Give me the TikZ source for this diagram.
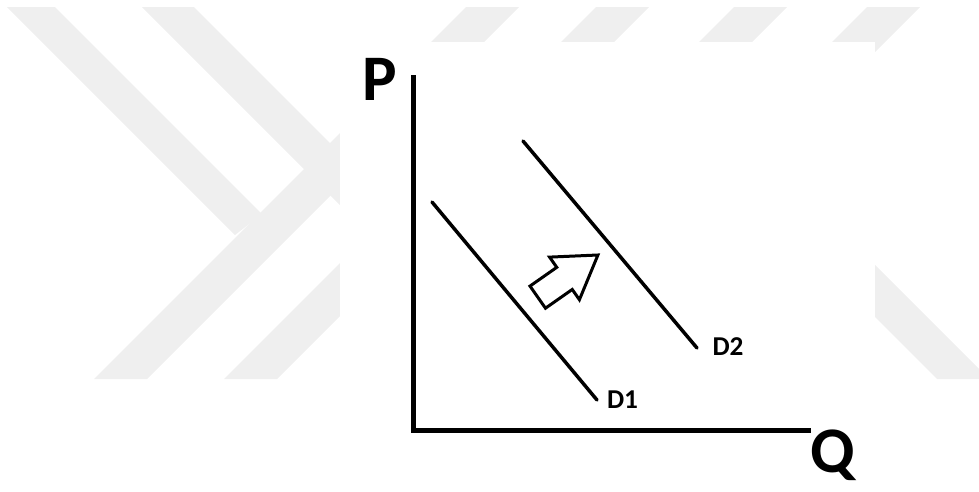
\documentclass[tikz,border=0pt]{standalone}
\usepackage{fontspec}
\setmainfont{Carlito}
\usepackage{tikz}
\usetikzlibrary{shapes.arrows,positioning}
\usepackage{xcolor}
\definecolor{MarkGray}{HTML}{EFEFEF}

\begin{document}
\begin{tikzpicture}[x=0.02cm, y=-0.02cm,
    wm/.style={fill=MarkGray},
    axis/.style={line width=0.1cm, line join=miter, line cap=rect},
    demand/.style={line width=0.07cm, line cap=round},
    axlbl/.style={font=\bfseries\fontsize{37}{40}\selectfont, anchor=base, inner sep=0pt},
    lbl/.style={font=\bfseries\fontsize{15.5}{17}\selectfont, anchor=base, inner sep=0pt},
    shiftarrow/.style={single arrow, draw, fill=white, line width=0.06cm, line join=miter, inner sep=0.24cm, single arrow tip angle=65, minimum width=0.94cm, minimum height=1.47cm, rotate=35, anchor=tail}
  ]
    \useasboundingbox (0,0) rectangle (979,491);

    \begin{scope}
      \clip (0,7) rectangle (979,379);
      \fill[wm] (7,7) -- (55,7) -- (262,214) -- (235,235) -- cycle;
      \fill[wm] (142,7) -- (194,7) -- (480,293) -- (428,293) -- cycle;
      \foreach \s in {473,603,741,874}
        \fill[wm] (\s-7,7) -- (\s+46,7) -- (\s-326,379) -- (\s-379,379) -- cycle;
      \fill[wm] (668,110) -- (720,110) -- (989,379) -- (937,379) -- cycle;
    \end{scope}
    \fill[white] (340,42) rectangle (875,491);

    \coordinate (ytop) at (413,77);
    \coordinate (xend) at (808,430);
    \draw[axis] (ytop) |- (xend);
    \node[axlbl] (plab) at (380,100) {P};
    \node[axlbl] (qlab) at (833,472) {Q};

    \coordinate (d1top) at (432,202);
    \coordinate (d1end) at (597,400);
    \coordinate (d2top) at (523,141);
    \coordinate (d2end) at (697,348);
    \draw[demand] (d1top) -- (d1end);
    \draw[demand] (d2top) -- (d2end);
    \node[lbl] (d1lab) at (622.5,408) {D1};
    \node[lbl] (d2lab) at (728,355) {D2};

    \node[shiftarrow] (move) at (536.5,298) {};
  \end{tikzpicture}
\end{document}
